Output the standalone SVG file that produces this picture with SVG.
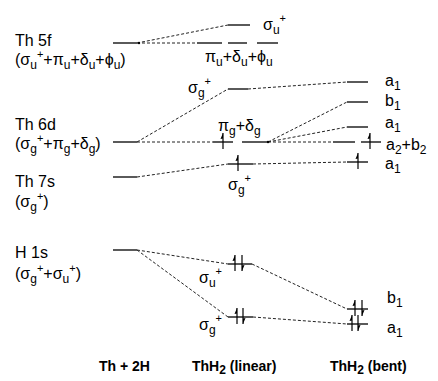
<svg xmlns="http://www.w3.org/2000/svg" width="438" height="381" viewBox="0 0 438 381">
<defs>
<style>
.t{font-family:"Liberation Sans",Arial,sans-serif;font-size:16px;fill:#000}
.b{font-family:"Liberation Sans",Arial,sans-serif;font-size:14px;font-weight:bold;fill:#000}
.sub{font-size:12px}
.sup{font-size:11px}
.lv{stroke:#000;stroke-width:1.3;fill:none}
.cn{stroke:#222;stroke-width:1;stroke-dasharray:3,2;fill:none}
.sp line{stroke:#000;stroke-width:1.2}
.sp polygon{fill:#000}
</style>
<g id="up" class="sp"><line x1="0" y1="7" x2="0" y2="-9"/><polygon points="0,-9 -2.5,-3 0,-3.5"/></g>
<g id="dn" class="sp"><line x1="0" y1="-9" x2="0" y2="7"/><polygon points="0,7 2.5,1 0,1.5"/></g>
</defs>
<rect width="438" height="381" fill="#fff"/>
<g id="connectors">
<line class="cn" x1="137" y1="43" x2="228" y2="25"/>
<line class="cn" x1="137" y1="43" x2="197" y2="43"/>
<line class="cn" x1="137" y1="142" x2="228" y2="89"/>
<line class="cn" x1="248" y1="89" x2="347" y2="82"/>
<line class="cn" x1="137" y1="142" x2="213" y2="142"/>
<line class="cn" x1="268" y1="142" x2="347" y2="102"/>
<line class="cn" x1="268" y1="142" x2="347" y2="127"/>
<line class="cn" x1="268" y1="142" x2="333" y2="142"/>
<line class="cn" x1="137" y1="177" x2="228" y2="164"/>
<line class="cn" x1="253" y1="164" x2="347" y2="162"/>
<line class="cn" x1="137" y1="250" x2="228" y2="264"/>
<line class="cn" x1="252" y1="264" x2="347" y2="309"/>
<line class="cn" x1="137" y1="250" x2="228" y2="317"/>
<line class="cn" x1="253" y1="317" x2="347" y2="324"/>
<circle cx="139" cy="43" r="1.2" fill="#000"/>
<circle cx="268" cy="142" r="1.2" fill="#000"/>
</g>
<g id="th5f">
<line class="lv" x1="113" y1="43" x2="137" y2="43"/>
<text class="t" x="15" y="46">Th 5f</text>
<text class="t" x="15" y="65">(σ<tspan class="sub" dy="4">u</tspan><tspan class="sup" dy="-11">+</tspan><tspan dy="7">+π</tspan><tspan class="sub" dy="4">u</tspan><tspan dy="-4">+δ</tspan><tspan class="sub" dy="4">u</tspan><tspan dy="-4">+ϕ</tspan><tspan class="sub" dy="4">u</tspan><tspan dy="-4">)</tspan></text>
</g>
<g id="lin-sigu-f">
<line class="lv" x1="228" y1="25" x2="250" y2="25"/>
<text class="t" x="263" y="30">σ<tspan class="sub" dy="4">u</tspan><tspan class="sup" dy="-12">+</tspan></text>
</g>
<g id="lin-piu">
<line class="lv" x1="197" y1="43" x2="222" y2="43"/>
<line class="lv" x1="228" y1="43" x2="247" y2="43"/>
<line class="lv" x1="257" y1="43" x2="278" y2="43"/>
<text class="t" x="205" y="62">π<tspan class="sub" dy="4">u</tspan><tspan dy="-4">+δ</tspan><tspan class="sub" dy="4">u</tspan><tspan dy="-4">+ϕ</tspan><tspan class="sub" dy="4">u</tspan></text>
</g>
<g id="th6d">
<line class="lv" x1="113" y1="142" x2="137" y2="142"/>
<text class="t" x="15" y="130">Th 6d</text>
<text class="t" x="15" y="149">(σ<tspan class="sub" dy="4">g</tspan><tspan class="sup" dy="-11">+</tspan><tspan dy="7">+π</tspan><tspan class="sub" dy="4">g</tspan><tspan dy="-4">+δ</tspan><tspan class="sub" dy="4">g</tspan><tspan dy="-4">)</tspan></text>
</g>
<g id="lin-sigg-d">
<line class="lv" x1="228" y1="89" x2="248" y2="89"/>
<text class="t" x="188" y="93">σ<tspan class="sub" dy="4">g</tspan><tspan class="sup" dy="-12">+</tspan></text>
</g>
<g id="lin-pig">
<line class="lv" x1="213" y1="142" x2="233" y2="142"/>
<line class="lv" x1="242" y1="142" x2="268" y2="142"/>
<use href="#up" x="223" y="142"/>
<text class="t" x="218" y="131">π<tspan class="sub" dy="4">g</tspan><tspan dy="-4">+δ</tspan><tspan class="sub" dy="4">g</tspan></text>
</g>
<g id="th7s">
<line class="lv" x1="113" y1="177" x2="137" y2="177"/>
<text class="t" x="15" y="187">Th 7s</text>
<text class="t" x="15" y="207">(σ<tspan class="sub" dy="4">g</tspan><tspan class="sup" dy="-11">+</tspan><tspan dy="7">)</tspan></text>
</g>
<g id="lin-sigg-s">
<line class="lv" x1="228" y1="164" x2="253" y2="164"/>
<use href="#up" x="238" y="164"/>
<text class="t" x="228" y="190">σ<tspan class="sub" dy="4">g</tspan><tspan class="sup" dy="-12">+</tspan></text>
</g>
<g id="bent-a1-top">
<line class="lv" x1="347" y1="82" x2="368" y2="82"/>
<text class="t" x="385" y="86">a<tspan class="sub" dy="4">1</tspan></text>
</g>
<g id="bent-b1-top">
<line class="lv" x1="347" y1="102" x2="368" y2="102"/>
<text class="t" x="385" y="106">b<tspan class="sub" dy="4">1</tspan></text>
</g>
<g id="bent-a1-mid">
<line class="lv" x1="347" y1="127" x2="368" y2="127"/>
<text class="t" x="385" y="128">a<tspan class="sub" dy="4">1</tspan></text>
</g>
<g id="bent-a2b2">
<line class="lv" x1="333" y1="142" x2="355" y2="142"/>
<line class="lv" x1="361" y1="142" x2="381" y2="142"/>
<use href="#up" x="370" y="142"/>
<text class="t" x="386" y="150">a<tspan class="sub" dy="4">2</tspan><tspan dy="-4">+b</tspan><tspan class="sub" dy="4">2</tspan></text>
</g>
<g id="bent-a1-low">
<line class="lv" x1="347" y1="162" x2="368" y2="162"/>
<use href="#up" x="358" y="162"/>
<text class="t" x="385" y="169">a<tspan class="sub" dy="4">1</tspan></text>
</g>
<g id="h1s">
<line class="lv" x1="113" y1="250" x2="137" y2="250"/>
<text class="t" x="15" y="258">H 1s</text>
<text class="t" x="15" y="279">(σ<tspan class="sub" dy="4">g</tspan><tspan class="sup" dy="-11">+</tspan><tspan dy="7">+σ</tspan><tspan class="sub" dy="4">u</tspan><tspan class="sup" dy="-11">+</tspan><tspan dy="7">)</tspan></text>
</g>
<g id="lin-sigu-h">
<line class="lv" x1="228" y1="264" x2="252" y2="264"/>
<use href="#up" x="235" y="264"/>
<use href="#dn" x="242" y="264"/>
<text class="t" x="199" y="283">σ<tspan class="sub" dy="4">u</tspan><tspan class="sup" dy="-12">+</tspan></text>
</g>
<g id="lin-sigg-h">
<line class="lv" x1="228" y1="317" x2="253" y2="317"/>
<use href="#up" x="237" y="317"/>
<use href="#dn" x="243" y="317"/>
<text class="t" x="199" y="330">σ<tspan class="sub" dy="4">g</tspan><tspan class="sup" dy="-12">+</tspan></text>
</g>
<g id="bent-b1-h">
<line class="lv" x1="347" y1="309" x2="368" y2="309"/>
<use href="#up" x="355" y="309"/>
<use href="#dn" x="362" y="309"/>
<text class="t" x="387" y="303">b<tspan class="sub" dy="4">1</tspan></text>
</g>
<g id="bent-a1-h">
<line class="lv" x1="347" y1="324" x2="368" y2="324"/>
<use href="#up" x="352" y="324"/>
<use href="#dn" x="358" y="324"/>
<text class="t" x="387" y="333">a<tspan class="sub" dy="4">1</tspan></text>
</g>
<g id="axis-labels">
<text class="b" x="99" y="371">Th + 2H</text>
<text class="b" x="192" y="371">ThH<tspan class="sub" dy="3">2</tspan><tspan dy="-3"> (linear)</tspan></text>
<text class="b" x="330" y="371">ThH<tspan class="sub" dy="3">2</tspan><tspan dy="-3"> (bent)</tspan></text>
</g>
</svg>
